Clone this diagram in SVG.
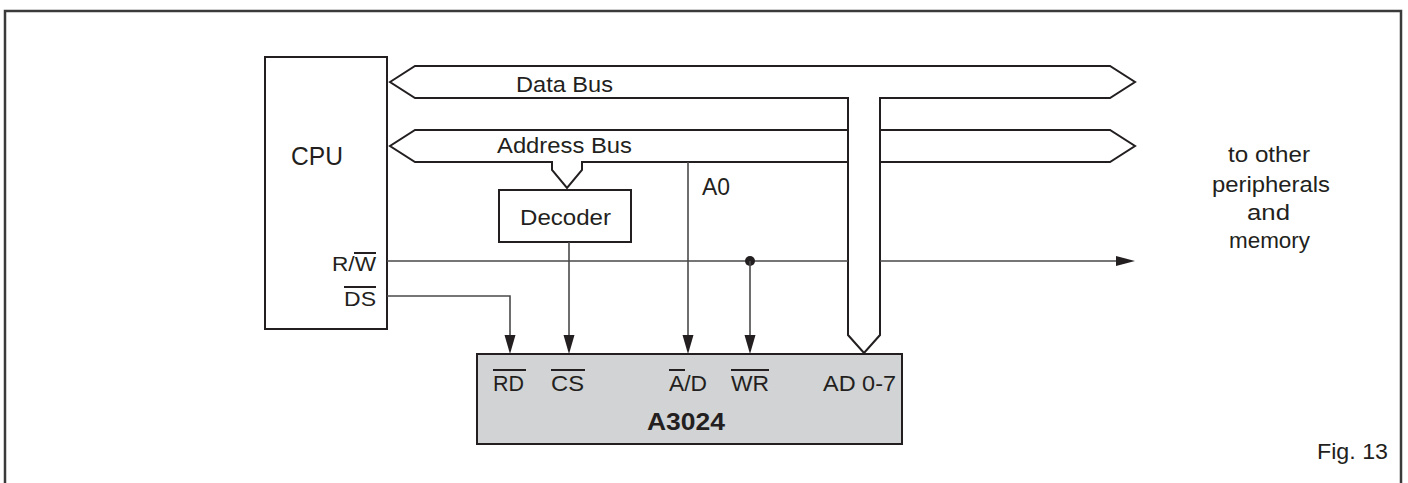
<svg xmlns="http://www.w3.org/2000/svg" width="1408" height="483" viewBox="0 0 1408 483">
<style>
  .t { font-family: "Liberation Sans", Arial, sans-serif; font-size: 22px; fill: #231f20; }
  .box { fill: #ffffff; stroke: #231f20; stroke-width: 2; }
  .bus { fill: #ffffff; stroke: #231f20; stroke-width: 2; stroke-linejoin: miter; }
  .busl { fill: none; stroke: #231f20; stroke-width: 2; }
  .sig { fill: none; stroke: #4a4a4a; stroke-width: 1.6; }
  .ov { stroke: #231f20; stroke-width: 2; }
  .ah { fill: #231f20; }
</style>
<rect x="0" y="0" width="1408" height="483" fill="#ffffff"/>
<rect x="5" y="11" width="1396" height="500" fill="none" stroke="#3a3a3a" stroke-width="2.5"/>

<g id="data-bus">
  <path class="bus" d="M390,82 L415,66 L1110,66 L1135,82 L1110,98 L880,98 L880,335 L864,353 L848,335 L848,98 L415,98 Z"/>
  <text class="t" x="516" y="92" textLength="97" lengthAdjust="spacingAndGlyphs">Data Bus</text>
</g>

<g id="address-bus">
  <path class="busl" d="M848,130 L415,130 L390,146 L415,162 L552,162 L552,170 L567,188 L582,170 L582,162 L848,162"/>
  <path class="busl" d="M880,130 L1110,130 L1135,146 L1110,162 L880,162"/>
  <text class="t" x="497" y="153" textLength="135" lengthAdjust="spacingAndGlyphs">Address Bus</text>
</g>

<g id="cpu">
  <rect class="box" x="265" y="57" width="122" height="272"/>
  <text class="t" x="291" y="165" style="font-size:26px" textLength="52" lengthAdjust="spacingAndGlyphs">CPU</text>
  <text class="t" x="332" y="271" style="font-size:20px" textLength="44" lengthAdjust="spacingAndGlyphs">R/W</text>
  <line class="ov" x1="354" y1="253" x2="376" y2="253"/>
  <text class="t" x="344" y="306" style="font-size:20px" textLength="32" lengthAdjust="spacingAndGlyphs">DS</text>
  <line class="ov" x1="344" y1="287" x2="376" y2="287"/>
</g>

<g id="decoder">
  <rect class="box" x="499" y="190" width="132" height="52"/>
  <text class="t" x="520" y="225" textLength="91" lengthAdjust="spacingAndGlyphs">Decoder</text>
</g>

<g id="a3024">
  <rect x="477" y="354" width="425" height="90" fill="#d1d3d4" stroke="#231f20" stroke-width="2"/>
  <text class="t" x="493" y="391" textLength="31" lengthAdjust="spacingAndGlyphs">RD</text>
  <line class="ov" x1="493" y1="370" x2="526" y2="370"/>
  <text class="t" x="551" y="391" textLength="33" lengthAdjust="spacingAndGlyphs">CS</text>
  <line class="ov" x1="551" y1="370" x2="585" y2="370"/>
  <text class="t" x="669" y="391" textLength="38" lengthAdjust="spacingAndGlyphs">A/D</text>
  <line class="ov" x1="669" y1="370" x2="685" y2="370"/>
  <text class="t" x="731" y="391" textLength="38" lengthAdjust="spacingAndGlyphs">WR</text>
  <line class="ov" x1="731" y1="370" x2="769" y2="370"/>
  <text class="t" x="823" y="391" textLength="73" lengthAdjust="spacingAndGlyphs">AD 0-7</text>
  <text class="t" x="647" y="430" style="font-weight:bold;font-size:23px" textLength="78" lengthAdjust="spacingAndGlyphs">A3024</text>
</g>

<g id="connectors">
  <path class="sig" d="M387,261 L848,261 M880,261 L1118,261"/>
  <polygon class="ah" points="1116,256 1135,261 1116,266"/>
  <circle class="ah" cx="750" cy="261" r="5"/>
  <path class="sig" d="M750,261 L750,338"/>
  <polygon class="ah" points="744.5,335 755.5,335 750,354"/>
  <path class="sig" d="M688,162 L688,338"/>
  <polygon class="ah" points="682.5,335 693.5,335 688,354"/>
  <path class="sig" d="M569,242 L569,338"/>
  <polygon class="ah" points="563.5,335 574.5,335 569,354"/>
  <path class="sig" d="M387,296 L510,296 L510,338"/>
  <polygon class="ah" points="504.5,335 515.5,335 510,354"/>
</g>

<g id="labels">
  <text class="t" x="702" y="195" style="font-size:23px" textLength="28" lengthAdjust="spacingAndGlyphs">A0</text>
  <text class="t" x="1228" y="162" style="font-size:22px" textLength="82" lengthAdjust="spacingAndGlyphs">to other</text>
  <text class="t" x="1212" y="192" style="font-size:22px" textLength="118" lengthAdjust="spacingAndGlyphs">peripherals</text>
  <text class="t" x="1247" y="220" style="font-size:22px" textLength="43" lengthAdjust="spacingAndGlyphs">and</text>
  <text class="t" x="1229" y="248" style="font-size:22px" textLength="81" lengthAdjust="spacingAndGlyphs">memory</text>
  <text class="t" x="1317" y="459" style="font-size:22px" textLength="71" lengthAdjust="spacingAndGlyphs">Fig. 13</text>
</g>
</svg>
